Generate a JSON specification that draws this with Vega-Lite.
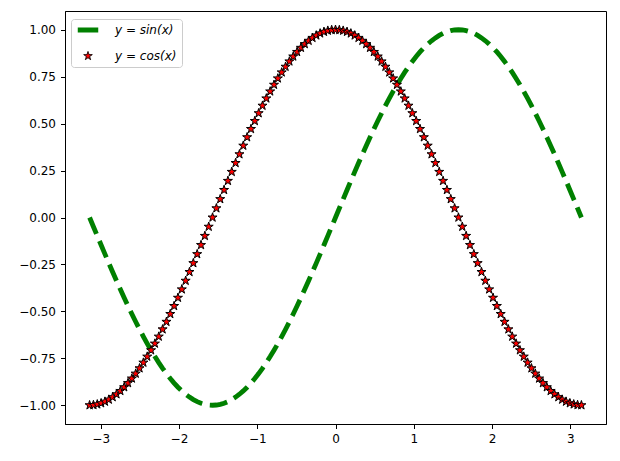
{
  "$schema": "https://vega.github.io/schema/vega-lite/v6.json",
  "width": 541,
  "height": 413,
  "autosize": {"type": "none"},
  "padding": {"left": 65, "top": 11, "right": 14, "bottom": 37},
  "background": "white",
  "config": {
    "view": {"stroke": "black", "strokeWidth": 1},
    "axis": {"grid": false, "domainColor": "black", "domainWidth": 1, "tickColor": "black", "tickWidth": 1, "tickSize": 4.5, "labelFont": "DejaVu Sans", "labelFontSize": 12, "labelColor": "black"},
    "legend": {
      "title": null, "orient": "none", "legendX": 6, "legendY": 8,
      "labelFont": "DejaVu Sans", "labelFontSize": 12, "labelFontStyle": "italic", "labelColor": "black",
      "strokeColor": "#cccccc", "fillColor": "white", "cornerRadius": 3, "padding": 5,
      "rowPadding": 9, "symbolSize": 100, "symbolStrokeWidth": 1.5, "symbolOffset": 6, "labelOffset": 21,
      "symbolFillColor": "#ff0000"
    }
  },
  "data": {"values": [
{"x":-3.1416,"s":0,"c":-1},
{"x":-3.0925,"s":-0.0491,"c":-0.9988},
{"x":-3.0434,"s":-0.098,"c":-0.9952},
{"x":-2.9943,"s":-0.1467,"c":-0.9892},
{"x":-2.9452,"s":-0.1951,"c":-0.9808},
{"x":-2.8962,"s":-0.243,"c":-0.97},
{"x":-2.8471,"s":-0.2903,"c":-0.9569},
{"x":-2.798,"s":-0.3369,"c":-0.9415},
{"x":-2.7489,"s":-0.3827,"c":-0.9239},
{"x":-2.6998,"s":-0.4276,"c":-0.904},
{"x":-2.6507,"s":-0.4714,"c":-0.8819},
{"x":-2.6016,"s":-0.5141,"c":-0.8577},
{"x":-2.5525,"s":-0.5556,"c":-0.8315},
{"x":-2.5035,"s":-0.5957,"c":-0.8032},
{"x":-2.4544,"s":-0.6344,"c":-0.773},
{"x":-2.4053,"s":-0.6716,"c":-0.741},
{"x":-2.3562,"s":-0.7071,"c":-0.7071},
{"x":-2.3071,"s":-0.741,"c":-0.6716},
{"x":-2.258,"s":-0.773,"c":-0.6344},
{"x":-2.2089,"s":-0.8032,"c":-0.5957},
{"x":-2.1598,"s":-0.8315,"c":-0.5556},
{"x":-2.1108,"s":-0.8577,"c":-0.5141},
{"x":-2.0617,"s":-0.8819,"c":-0.4714},
{"x":-2.0126,"s":-0.904,"c":-0.4276},
{"x":-1.9635,"s":-0.9239,"c":-0.3827},
{"x":-1.9144,"s":-0.9415,"c":-0.3369},
{"x":-1.8653,"s":-0.9569,"c":-0.2903},
{"x":-1.8162,"s":-0.97,"c":-0.243},
{"x":-1.7671,"s":-0.9808,"c":-0.1951},
{"x":-1.7181,"s":-0.9892,"c":-0.1467},
{"x":-1.669,"s":-0.9952,"c":-0.098},
{"x":-1.6199,"s":-0.9988,"c":-0.0491},
{"x":-1.5708,"s":-1,"c":0},
{"x":-1.5217,"s":-0.9988,"c":0.0491},
{"x":-1.4726,"s":-0.9952,"c":0.098},
{"x":-1.4235,"s":-0.9892,"c":0.1467},
{"x":-1.3744,"s":-0.9808,"c":0.1951},
{"x":-1.3254,"s":-0.97,"c":0.243},
{"x":-1.2763,"s":-0.9569,"c":0.2903},
{"x":-1.2272,"s":-0.9415,"c":0.3369},
{"x":-1.1781,"s":-0.9239,"c":0.3827},
{"x":-1.129,"s":-0.904,"c":0.4276},
{"x":-1.0799,"s":-0.8819,"c":0.4714},
{"x":-1.0308,"s":-0.8577,"c":0.5141},
{"x":-0.9817,"s":-0.8315,"c":0.5556},
{"x":-0.9327,"s":-0.8032,"c":0.5957},
{"x":-0.8836,"s":-0.773,"c":0.6344},
{"x":-0.8345,"s":-0.741,"c":0.6716},
{"x":-0.7854,"s":-0.7071,"c":0.7071},
{"x":-0.7363,"s":-0.6716,"c":0.741},
{"x":-0.6872,"s":-0.6344,"c":0.773},
{"x":-0.6381,"s":-0.5957,"c":0.8032},
{"x":-0.589,"s":-0.5556,"c":0.8315},
{"x":-0.54,"s":-0.5141,"c":0.8577},
{"x":-0.4909,"s":-0.4714,"c":0.8819},
{"x":-0.4418,"s":-0.4276,"c":0.904},
{"x":-0.3927,"s":-0.3827,"c":0.9239},
{"x":-0.3436,"s":-0.3369,"c":0.9415},
{"x":-0.2945,"s":-0.2903,"c":0.9569},
{"x":-0.2454,"s":-0.243,"c":0.97},
{"x":-0.1963,"s":-0.1951,"c":0.9808},
{"x":-0.1473,"s":-0.1467,"c":0.9892},
{"x":-0.0982,"s":-0.098,"c":0.9952},
{"x":-0.0491,"s":-0.0491,"c":0.9988},
{"x":0,"s":0,"c":1},
{"x":0.0491,"s":0.0491,"c":0.9988},
{"x":0.0982,"s":0.098,"c":0.9952},
{"x":0.1473,"s":0.1467,"c":0.9892},
{"x":0.1963,"s":0.1951,"c":0.9808},
{"x":0.2454,"s":0.243,"c":0.97},
{"x":0.2945,"s":0.2903,"c":0.9569},
{"x":0.3436,"s":0.3369,"c":0.9415},
{"x":0.3927,"s":0.3827,"c":0.9239},
{"x":0.4418,"s":0.4276,"c":0.904},
{"x":0.4909,"s":0.4714,"c":0.8819},
{"x":0.54,"s":0.5141,"c":0.8577},
{"x":0.589,"s":0.5556,"c":0.8315},
{"x":0.6381,"s":0.5957,"c":0.8032},
{"x":0.6872,"s":0.6344,"c":0.773},
{"x":0.7363,"s":0.6716,"c":0.741},
{"x":0.7854,"s":0.7071,"c":0.7071},
{"x":0.8345,"s":0.741,"c":0.6716},
{"x":0.8836,"s":0.773,"c":0.6344},
{"x":0.9327,"s":0.8032,"c":0.5957},
{"x":0.9817,"s":0.8315,"c":0.5556},
{"x":1.0308,"s":0.8577,"c":0.5141},
{"x":1.0799,"s":0.8819,"c":0.4714},
{"x":1.129,"s":0.904,"c":0.4276},
{"x":1.1781,"s":0.9239,"c":0.3827},
{"x":1.2272,"s":0.9415,"c":0.3369},
{"x":1.2763,"s":0.9569,"c":0.2903},
{"x":1.3254,"s":0.97,"c":0.243},
{"x":1.3744,"s":0.9808,"c":0.1951},
{"x":1.4235,"s":0.9892,"c":0.1467},
{"x":1.4726,"s":0.9952,"c":0.098},
{"x":1.5217,"s":0.9988,"c":0.0491},
{"x":1.5708,"s":1,"c":0},
{"x":1.6199,"s":0.9988,"c":-0.0491},
{"x":1.669,"s":0.9952,"c":-0.098},
{"x":1.7181,"s":0.9892,"c":-0.1467},
{"x":1.7671,"s":0.9808,"c":-0.1951},
{"x":1.8162,"s":0.97,"c":-0.243},
{"x":1.8653,"s":0.9569,"c":-0.2903},
{"x":1.9144,"s":0.9415,"c":-0.3369},
{"x":1.9635,"s":0.9239,"c":-0.3827},
{"x":2.0126,"s":0.904,"c":-0.4276},
{"x":2.0617,"s":0.8819,"c":-0.4714},
{"x":2.1108,"s":0.8577,"c":-0.5141},
{"x":2.1598,"s":0.8315,"c":-0.5556},
{"x":2.2089,"s":0.8032,"c":-0.5957},
{"x":2.258,"s":0.773,"c":-0.6344},
{"x":2.3071,"s":0.741,"c":-0.6716},
{"x":2.3562,"s":0.7071,"c":-0.7071},
{"x":2.4053,"s":0.6716,"c":-0.741},
{"x":2.4544,"s":0.6344,"c":-0.773},
{"x":2.5035,"s":0.5957,"c":-0.8032},
{"x":2.5525,"s":0.5556,"c":-0.8315},
{"x":2.6016,"s":0.5141,"c":-0.8577},
{"x":2.6507,"s":0.4714,"c":-0.8819},
{"x":2.6998,"s":0.4276,"c":-0.904},
{"x":2.7489,"s":0.3827,"c":-0.9239},
{"x":2.798,"s":0.3369,"c":-0.9415},
{"x":2.8471,"s":0.2903,"c":-0.9569},
{"x":2.8962,"s":0.243,"c":-0.97},
{"x":2.9452,"s":0.1951,"c":-0.9808},
{"x":2.9943,"s":0.1467,"c":-0.9892},
{"x":3.0434,"s":0.098,"c":-0.9952},
{"x":3.0925,"s":0.0491,"c":-0.9988},
{"x":3.1416,"s":0,"c":-1}
  ]},
  "layer": [
    {
      "mark": {"type": "line", "strokeWidth": 4.8, "strokeDash": [17.8, 7.7], "strokeCap": "butt"},
      "encoding": {
        "x": {"field": "x", "type": "quantitative", "title": null,
              "scale": {"domain": [-3.4558, 3.4558], "nice": false, "zero": false},
              "axis": {"values": [-3, -2, -1, 0, 1, 2, 3], "format": "d", "labelPadding": 5}},
        "y": {"field": "s", "type": "quantitative", "title": null,
              "scale": {"domain": [-1.1, 1.1], "nice": false, "zero": false},
              "axis": {"values": [-1, -0.75, -0.5, -0.25, 0, 0.25, 0.5, 0.75, 1], "format": ".2f", "labelPadding": 5}},
        "color": {"datum": "sin", "type": "nominal",
                  "scale": {"domain": ["sin", "cos"], "range": ["#008000", "#000000"]},
                  "legend": {
                    "labelExpr": "datum.value === 'sin' ? 'y = sin(x)' : 'y = cos(x)'",
                    "symbolDash": [1, 0],
                    "encode": {"symbols": {"update": {
                      "shape": {"signal": "datum.value === 'sin' ? 'stroke' : 'M0,-1L0.2245,-0.309L0.9511,-0.309L0.3633,0.118L0.5878,0.809L0,0.382L-0.5878,0.809L-0.3633,0.118L-0.9511,-0.309L-0.2245,-0.309Z'"},
                      "size": {"signal": "datum.value === 'sin' ? 420 : 81"},
                      "fill": {"signal": "datum.value === 'sin' ? 'transparent' : '#ff0000'"},
                      "stroke": {"signal": "datum.value === 'sin' ? '#008000' : '#000000'"},
                      "strokeWidth": {"signal": "datum.value === 'sin' ? 4.8 : 1"},
                      "strokeDash": {"value": [1, 0]},
                      "opacity": {"value": 1}
                    }}}
                  }}
      }
    },
    {
      "mark": {"type": "point", "shape": "M0,-1L0.2245,-0.309L0.9511,-0.309L0.3633,0.118L0.5878,0.809L0,0.382L-0.5878,0.809L-0.3633,0.118L-0.9511,-0.309L-0.2245,-0.309Z",
               "size": 90, "filled": true, "fill": "#ff0000", "stroke": "black", "strokeWidth": 1, "opacity": 1},
      "encoding": {
        "x": {"field": "x", "type": "quantitative", "title": null},
        "y": {"field": "c", "type": "quantitative", "title": null}
      }
    }
  ]
}
